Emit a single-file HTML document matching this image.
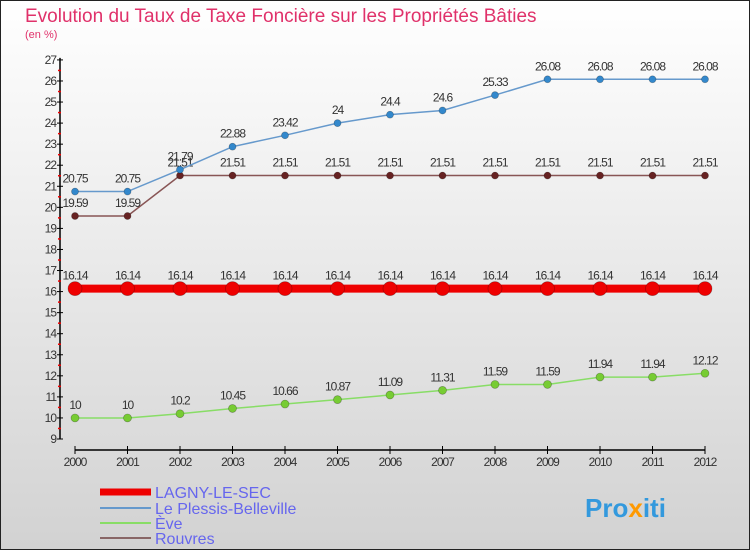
<!DOCTYPE html>
<html><head><meta charset="utf-8"><style>
body{margin:0;width:750px;height:550px;overflow:hidden;font-family:"Liberation Sans",sans-serif}
svg{display:block}
</style></head><body>
<svg id="c" width="750" height="550" xmlns="http://www.w3.org/2000/svg">
<defs><linearGradient id="bg" x1="0" y1="0" x2="0" y2="1"><stop offset="0" stop-color="#ffffff"/><stop offset="1" stop-color="#d2d2d2"/></linearGradient></defs>
<rect x="0.5" y="0.5" width="749" height="549" fill="url(#bg)" stroke="#222"/>
<text x="25" y="22" font-size="19" fill="#e0316a">Evolution du Taux de Taxe Foncière sur les Propriétés Bâties</text>
<text x="25" y="38" font-size="11" fill="#e0316a">(en %)</text>
<g id="axes"></g><g id="series"></g>
<g>
<line x1="100" y1="492" x2="151" y2="492" stroke="#ee0000" stroke-width="7"/>
<text x="155" y="498" font-size="16" fill="#6666ee">LAGNY-LE-SEC</text>
<line x1="100" y1="508" x2="151" y2="508" stroke="#6699cc" stroke-width="2"/>
<text x="155" y="514" font-size="16" fill="#6666ee">Le Plessis-Belleville</text>
<line x1="100" y1="523" x2="151" y2="523" stroke="#88dd66" stroke-width="2"/>
<text x="155" y="529" font-size="16" fill="#6666ee">Ève</text>
<line x1="100" y1="538" x2="151" y2="538" stroke="#886666" stroke-width="2"/>
<text x="155" y="544" font-size="16" fill="#6666ee">Rouvres</text>
</g>
<text x="585" y="517" font-size="26" font-weight="bold" fill="#3399dd">Pro<tspan fill="#ff9900">x</tspan>iti</text>
</svg>
<script>
const years=["2000","2001","2002","2003","2004","2005","2006","2007","2008","2009","2010","2011","2012"];
const lagny=[16.14,16.14,16.14,16.14,16.14,16.14,16.14,16.14,16.14,16.14,16.14,16.14,16.14];
const plessis=[20.75,20.75,21.79,22.88,23.42,24,24.4,24.6,25.33,26.08,26.08,26.08,26.08];
const eve=[10,10,10.2,10.45,10.66,10.87,11.09,11.31,11.59,11.59,11.94,11.94,12.12];
const rouvres=[19.59,19.59,21.51,21.51,21.51,21.51,21.51,21.51,21.51,21.51,21.51,21.51,21.51];
const yTicks=[9,10,11,12,13,14,15,16,17,18,19,20,21,22,23,24,25,26,27];
const NS="http://www.w3.org/2000/svg";
const X=i=>75+i*52.5, Y=v=>439-(v-9)*21.06;
function mk(t,a,p){const e=document.createElementNS(NS,t);for(const k in a)e.setAttribute(k,a[k]);p.appendChild(e);return e;}
const ax=document.getElementById('axes');
let e=mk('line',{x1:60,y1:Y(27)-2,x2:60,y2:Y(9),stroke:'#000','stroke-width':1.5},ax);


e=mk('line',{x1:X(0),y1:450,x2:X(12),y2:450,stroke:'#000','stroke-width':1.5},ax);


yTicks.forEach(v=>{
 mk('line',{x1:57,y1:Y(v),x2:63,y2:Y(v),stroke:'#000'},ax);
 if(v<27) mk('line',{x1:58,y1:Y(v+0.5),x2:61,y2:Y(v+0.5),stroke:'#e00','stroke-width':1.5},ax);
 const t=mk('text',{x:56,y:Y(v)+4,'font-size':12,fill:'#333','text-anchor':'end','letter-spacing':'-1'},ax);t.textContent=v;
 
 
});
years.forEach((y,i)=>{
 mk('line',{x1:X(i),y1:446,x2:X(i),y2:454,stroke:'#000'},ax);
 const t=mk('text',{x:X(i),y:466,'font-size':12,fill:'#333','text-anchor':'middle','letter-spacing':'-1'},ax);t.textContent=y;
 
 
});
const sg=document.getElementById('series');
function series(d,col,dot,w,r,name){
 const g=mk('g',{},sg);
 
 
 mk('polyline',{points:d.map((v,i)=>X(i)+','+Y(v)).join(' '),fill:'none',stroke:col,'stroke-width':w},g);
 d.forEach((v,i)=>{
  const c=mk('circle',{cx:X(i),cy:Y(v),r:r,fill:dot,stroke:'rgba(0,0,0,0.3)','stroke-width':0.7},g);
  
  
  const t=mk('text',{x:X(i),y:Y(v)-9,'font-size':12,fill:'#333','text-anchor':'middle','letter-spacing':'-1'},g);t.textContent=v;
  
  
 });
}
series(eve,'#88dd66','#77cc33',1.5,4,'eve');
series(rouvres,'#885555','#662222',1.5,3.5,'rouvres');
series(plessis,'#6699cc','#3388cc',1.5,3.5,'plessis');
series(lagny,'#ee0000','#ee0000',8,7,'lagny');
</script>
</body></html>
